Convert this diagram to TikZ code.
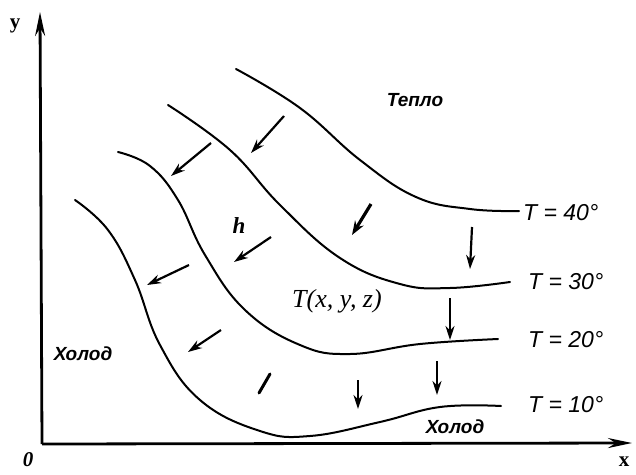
\documentclass[tikz,border=0pt]{standalone}
\usepackage{fontspec}
\setmainfont{Liberation Serif}
\newfontfamily\sansf{Liberation Sans}
\usetikzlibrary{arrows.meta}
\begin{document}
\begin{tikzpicture}[x=1pt,y=-1pt,
  iso/.style={line width=2pt, line cap=round},
  axis/.style={line width=2.8pt, -{Stealth[length=24pt,width=10pt]}},
  flux/.style={line width=2.2pt, -{Stealth[length=14pt,width=9pt]}},
  heavy/.style={line width=3.2pt, -{Stealth[length=14pt,width=10pt]}},
  tlabel/.style={anchor=west, inner sep=0pt, font=\sansf\itshape\fontsize{23}{25}\selectfont},
  word/.style={inner sep=0pt, font=\sansf\bfseries\itshape\fontsize{19}{21}\selectfont},
  letter/.style={inner sep=0pt, font=\bfseries\fontsize{21}{23}\selectfont}]
\useasboundingbox (0,0) rectangle (636,474);
% axes
\coordinate (O) at (42,444);
\coordinate (Ytip) at (40,12);
\coordinate (Xtip) at (632,443);
\draw[axis] (O) -- (Ytip);
\draw[axis] (O) -- (Xtip);
\node[letter] (ylab) at (15,26) {y};
\node[letter, font=\itshape\bfseries\fontsize{21}{23}\selectfont] (zero) at (28,460) {0};
\node[letter] (xlab) at (624,462) {x};
% isotherms
\draw[iso] plot[smooth, tension=0.7] coordinates {(236,69) (300,108) (360,160) (416,197) (470,209) (519,211)};
\draw[iso] plot[smooth, tension=0.7] coordinates {(168,105) (230,150) (280,205) (340,258) (400,284) (450,288) (510,282)};
\draw[iso] plot[smooth, tension=0.7] coordinates {(118,152) (150,166) (178,200) (205,255) (245,310) (300,345) (350,354) (420,344) (498,339)};
\draw[iso] plot[smooth, tension=0.7] coordinates {(75,200) (108,230) (135,280) (160,345) (200,400) (260,431) (310,436) (380,422) (440,407) (501,406)};
% heat flux arrows
\draw[flux] (284,116) -- (251,153);
\draw[flux] (211,143) -- (171,176);
\draw[flux] (271,237) -- (234,262);
\draw[flux] (189,265) -- (147,285);
\draw[flux] (221,330) -- (188,352);
\draw[line width=3pt, line cap=round] (270,374) -- (259,393);
\draw[heavy] (371,204) -- (352,235);
\draw[flux] (472,227) -- (470,269);
\draw[flux] (450,298) -- (450,340);
\draw[flux] (437,361) -- (437,395);
\draw[flux] (358,380) -- (358,409);
% labels
\node[tlabel] (t40) at (523,213) {T = 40°};
\node[tlabel] (t30) at (528,282) {T = 30°};
\node[tlabel] (t20) at (528,340) {T = 20°};
\node[tlabel] (t10) at (528,405) {T = 10°};
\node[word] (warm) at (415,100) {Тепло};
\node[word] (coldL) at (83,354) {Холод};
\node[word] (coldB) at (455,427) {Холод};
\node[letter, font=\itshape\bfseries\fontsize{23}{25}\selectfont] (h) at (239,226) {h};
\node[inner sep=0pt, font=\itshape\fontsize{26}{28}\selectfont] (field) at (337,301) {T(x, y, z)};
\end{tikzpicture}
\end{document}
